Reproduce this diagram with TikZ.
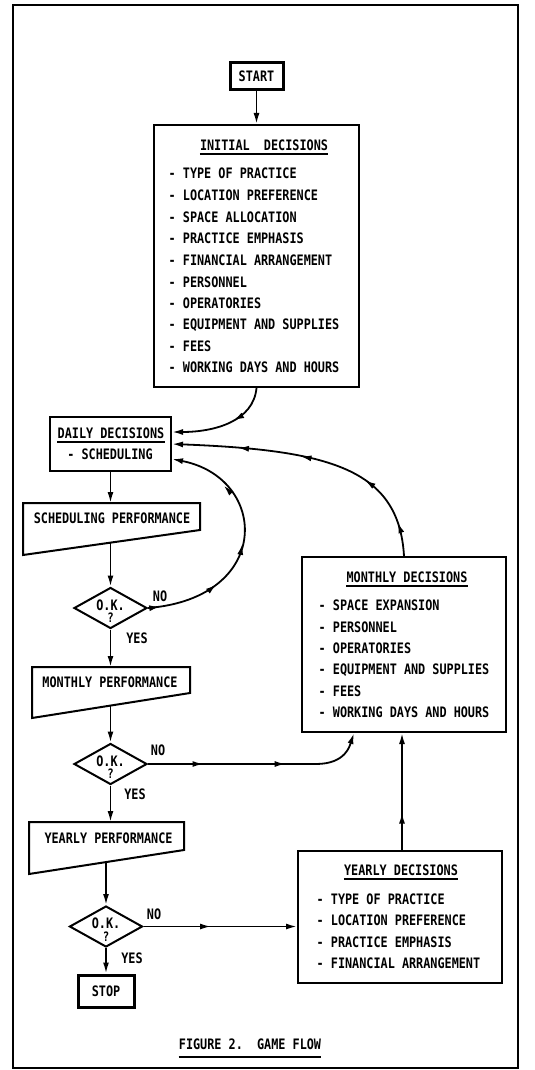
\documentclass[tikz,border=0pt]{standalone}
\usepackage{fontspec}
\newfontfamily\flowfont[FakeStretch=0.82]{DejaVu Sans Mono}
\usetikzlibrary{arrows.meta}
\usetikzlibrary{shapes.geometric}
\usetikzlibrary{decorations.markings}
\tikzset{txt/.style={font=\flowfont\bfseries\fontsize{14.4}{16}\selectfont, inner sep=0pt},
 box/.style={draw, line width=2pt, inner sep=0pt},
 terminal/.style={draw, line width=3pt, inner sep=0pt, txt},
 decision/.style={draw, diamond, line width=2pt, inner sep=0pt,
   minimum width=73pt, minimum height=41pt},
 okmark/.style={txt, align=center, font=\flowfont\bfseries\fontsize{14.4}{12.5}\selectfont},
 flow/.style={line width=1.8pt, -{Latex[length=11pt,width=6pt]}},
 midtip/.style={postaction={decorate, decoration={markings,
   mark=at position #1 with {\arrow{Latex[length=11pt,width=6pt]}}}}},
 uline/.style={line width=1.6pt},
 panel/.style={line width=2pt, line join=miter},
 }

\begin{document}
\begin{tikzpicture}[x=1pt,y=-1pt]
        \useasboundingbox (0,0) rectangle (535,1070);
        \draw[line width=1.8pt] (13,5) rectangle (518,1068);
        % start and initial decisions
        \node[terminal, minimum width=53pt, minimum height=27pt] (start) at (256.5,76.5) {START};
        \node[box, minimum width=205pt, minimum height=262pt] (initial) at (256.5,256) {};
        \node[txt, anchor=base] (tinitial) at (264,150) {INITIAL\ \ DECISIONS};
        \draw[uline] ([yshift=-4pt]tinitial.base west) -- ([yshift=-4pt]tinitial.base east);
        \node[txt, anchor=base west] (ini1) at (168.5,178) {- TYPE OF PRACTICE};
        \node[txt, anchor=base west] (ini2) at (168.5,200) {- LOCATION PREFERENCE};
        \node[txt, anchor=base west] (ini3) at (168.5,222) {- SPACE ALLOCATION};
        \node[txt, anchor=base west] (ini4) at (168.5,243) {- PRACTICE EMPHASIS};
        \node[txt, anchor=base west] (ini5) at (168.5,265) {- FINANCIAL ARRANGEMENT};
        \node[txt, anchor=base west] (ini6) at (168.5,287) {- PERSONNEL};
        \node[txt, anchor=base west] (ini7) at (168.5,308) {- OPERATORIES};
        \node[txt, anchor=base west] (ini8) at (168.5,329) {- EQUIPMENT AND SUPPLIES};
        \node[txt, anchor=base west] (ini9) at (168.5,351) {- FEES};
        \node[txt, anchor=base west] (ini10) at (168.5,372) {- WORKING DAYS AND HOURS};
        % daily loop
        \node[box, minimum width=121pt, minimum height=54pt] (daily) at (110.5,444) {};
        \node[txt, anchor=base] (tdaily) at (111,438) {DAILY DECISIONS};
        \draw[uline] ([yshift=-4pt]tdaily.base west) -- ([yshift=-4pt]tdaily.base east);
        \node[txt, anchor=base] (day1) at (110,459) {- SCHEDULING};
        \draw[panel] (23,503) -- (200,503) -- (200,530) -- (23,555) -- cycle;
        \node[txt] (tsched) at (112,518) {SCHEDULING PERFORMANCE};
        \coordinate (schedtop) at (110.5,503);
        \coordinate (schedbot) at (110.5,542.5);
        \node[decision] (ok1) at (110.5,608) {};
        \node[okmark] (tok1) at (110.5,611) {O.K.\\{\fontsize{13}{12.5}\selectfont ?}};
        % monthly performance
        \draw[panel] (32,667) -- (190,667) -- (190,693) -- (32,718) -- cycle;
        \node[txt] (tmonperf) at (110,682) {MONTHLY PERFORMANCE};
        \coordinate (montop) at (110.5,667);
        \coordinate (monbot) at (110.5,706);
        \node[decision] (ok2) at (110.5,764) {};
        \node[okmark] (tok2) at (110.5,767) {O.K.\\{\fontsize{13}{12.5}\selectfont ?}};
        % yearly performance
        \draw[panel] (29,822) -- (184,822) -- (184,850) -- (29,874) -- cycle;
        \node[txt] (tyearperf) at (108.5,838) {YEARLY PERFORMANCE};
        \coordinate (yeartop) at (106,822);
        \coordinate (yearbot) at (106,862);
        \node[decision] (ok3) at (106,926.5) {};
        \node[okmark] (tok3) at (106,929.5) {O.K.\\{\fontsize{13}{12.5}\selectfont ?}};
        \node[terminal, minimum width=56pt, minimum height=32pt] (stop) at (106,991) {STOP};
        % monthly decisions
        \node[box, minimum width=204pt, minimum height=175pt] (monthly) at (404,644.5) {};
        \node[txt, anchor=base] (tmonthly) at (407,582) {MONTHLY DECISIONS};
        \draw[uline] ([yshift=-4pt]tmonthly.base west) -- ([yshift=-4pt]tmonthly.base east);
        \node[txt, anchor=base west] (mon1) at (318.5,610) {- SPACE EXPANSION};
        \node[txt, anchor=base west] (mon2) at (318.5,632) {- PERSONNEL};
        \node[txt, anchor=base west] (mon3) at (318.5,653) {- OPERATORIES};
        \node[txt, anchor=base west] (mon4) at (318.5,674) {- EQUIPMENT AND SUPPLIES};
        \node[txt, anchor=base west] (mon5) at (318.5,696) {- FEES};
        \node[txt, anchor=base west] (mon6) at (318.5,717) {- WORKING DAYS AND HOURS};
        % yearly decisions
        \node[box, minimum width=204pt, minimum height=132pt] (yearly) at (400,917) {};
        \node[txt, anchor=base] (tyearly) at (401,875) {YEARLY DECISIONS};
        \draw[uline] ([yshift=-4pt]tyearly.base west) -- ([yshift=-4pt]tyearly.base east);
        \node[txt, anchor=base west] (yr1) at (316.5,904) {- TYPE OF PRACTICE};
        \node[txt, anchor=base west] (yr2) at (316.5,925) {- LOCATION PREFERENCE};
        \node[txt, anchor=base west] (yr3) at (316.5,947) {- PRACTICE EMPHASIS};
        \node[txt, anchor=base west] (yr4) at (316.5,968) {- FINANCIAL ARRANGEMENT};
        % yes / no
        \node[txt] (no1) at (160,596) {NO};
        \node[txt] (yes1) at (137,638) {YES};
        \node[txt] (no2) at (158,750) {NO};
        \node[txt] (yes2) at (135,794) {YES};
        \node[txt] (no3) at (154,914) {NO};
        \node[txt] (yes3) at (132,958) {YES};
        % connectors
        \draw[flow] (start) -- (initial);
        \draw[flow, midtip=0.4] (initial.south) .. controls +(-3,33) and +(43,0) .. ([yshift=12pt]daily.east);
        \draw[flow] (daily.south) -- (schedtop);
        \draw[flow] (schedbot) -- (ok1.north);
        \draw[flow] (ok1.south) -- (montop);
        \draw[flow] (monbot) -- (ok2.north);
        \draw[flow] (ok2.south) -- (ok2.south |- yeartop);
        \draw[flow] (yearbot) -- (ok3.north);
        \draw[flow] (ok3.south) -- (stop);
        \draw[flow, midtip=0.05, midtip=0.3, midtip=0.5, midtip=0.76] (ok1.east) .. controls +(125,-10) and +(97,19) .. ([yshift=-15pt]daily.east);
        \draw[flow, midtip=0.12, midtip=0.31, midtip=0.55, midtip=0.77] (monthly.north) .. controls +(-5,-87) and +(158,6) .. (daily.east);
        \draw[flow, midtip=0.25, midtip=0.62] (ok2.east) -- ++(168,0) .. controls +(30,0) and +(-4,12) .. ([xshift=-50pt]monthly.south);
        \draw[flow, midtip=0.44] (ok3.east) -- (ok3.east -| yearly.west);
        \draw[flow, midtip=0.32] ([xshift=2pt]yearly.north) -- ([xshift=2pt]yearly.north |- monthly.south);
        % caption
        \node[txt, anchor=base] (caption) at (250,1049) {FIGURE 2.\ \ GAME FLOW};
        \draw[uline] ([yshift=-8pt]caption.base west) -- ([yshift=-8pt]caption.base east);
    \end{tikzpicture}
\end{document}
